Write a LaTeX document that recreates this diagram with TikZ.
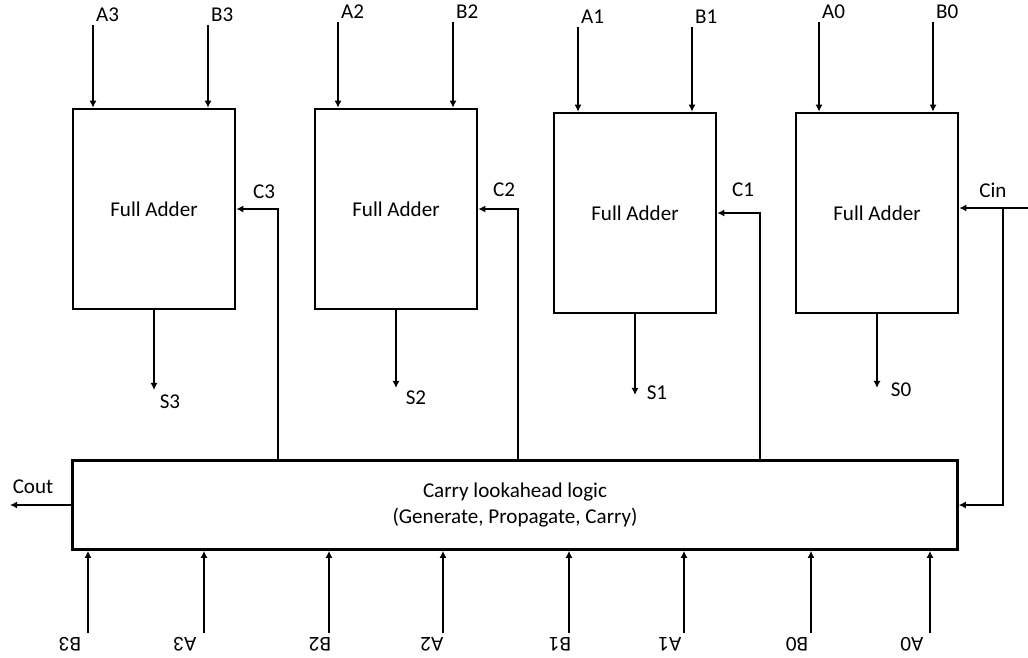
\documentclass[tikz,border=0pt]{standalone}
\usepackage{fontspec}
\setmainfont{Carlito}
\usetikzlibrary{arrows.meta,positioning}

\begin{document}
\begin{tikzpicture}[
  x=0.02cm, y=-0.02cm,
  >={Latex[length=4pt,width=4pt]},
  every path/.style={line width=1.5pt},
  adder/.style={draw, line width=1.5pt, minimum width=3.24cm, minimum height=4cm,
                inner sep=0pt, font=\fontsize{12}{14}\selectfont},
  logic/.style={draw, line width=1.5pt, minimum width=17.7cm, minimum height=1.78cm,
                align=center, inner sep=0pt, font=\fontsize{12}{15}\selectfont},
  lbl/.style={inner sep=1pt, font=\fontsize{12}{14}\selectfont}
]
  \useasboundingbox (0,0) rectangle (1028,657);

  \node[adder] (fa3) at (154,209) {Full Adder};
  \node[adder] (fa2) at (396,209) {Full Adder};
  \node[adder] (fa1) at (635,213) {Full Adder};
  \node[adder] (fa0) at (877,213) {Full Adder};
  \node[logic] (cla) at (515,505) {Carry lookahead logic\\(Generate, Propagate, Carry)};

  \coordinate (a3) at (93,25);
  \coordinate (b3) at (208,25);
  \coordinate (a2) at (338,22);
  \coordinate (b2) at (453,22);
  \coordinate (a1) at (578,27);
  \coordinate (b1) at (692,27);
  \coordinate (a0) at (819,22);
  \coordinate (b0) at (933,22);
  \node[lbl, anchor=south west] (la3) at (a3) {A3};
  \node[lbl, anchor=south west] (lb3) at (b3) {B3};
  \node[lbl, anchor=south west] (la2) at (a2) {A2};
  \node[lbl, anchor=south west] (lb2) at (b2) {B2};
  \node[lbl, anchor=south west] (la1) at (a1) {A1};
  \node[lbl, anchor=south west] (lb1) at (b1) {B1};
  \node[lbl, anchor=south west] (la0) at (a0) {A0};
  \node[lbl, anchor=south west] (lb0) at (b0) {B0};
  \draw[->] (a3) -- (a3 |- fa3.north);
  \draw[->] (b3) -- (b3 |- fa3.north);
  \draw[->] (a2) -- (a2 |- fa2.north);
  \draw[->] (b2) -- (b2 |- fa2.north);
  \draw[->] (a1) -- (a1 |- fa1.north);
  \draw[->] (b1) -- (b1 |- fa1.north);
  \draw[->] (a0) -- (a0 |- fa0.north);
  \draw[->] (b0) -- (b0 |- fa0.north);

  \coordinate (s3) at (154,390);
  \coordinate (s2) at (396,388);
  \coordinate (s1) at (635,395);
  \coordinate (s0) at (877,388);
  \draw[->] (fa3.south) -- (s3);
  \draw[->] (fa2.south) -- (s2);
  \draw[->] (fa1.south) -- (s1);
  \draw[->] (fa0.south) -- (s0);
  \node[lbl] (ls3) at ([shift={(16,12)}]s3) {S3};
  \node[lbl] (ls2) at ([shift={(20,10)}]s2) {S2};
  \node[lbl] (ls1) at ([shift={(22,-2)}]s1) {S1};
  \node[lbl] (ls0) at ([shift={(24,2)}]s0) {S0};

  \coordinate (c3) at (278,209);
  \coordinate (c2) at (518,209);
  \coordinate (c1) at (760,213);
  \draw[->] (c3 |- cla.north) |- (fa3.east);
  \draw[->] (c2 |- cla.north) |- (fa2.east);
  \draw[->] (c1 |- cla.north) |- (fa1.east);
  \node[lbl] (lc3) at (264,192) {C3};
  \node[lbl] (lc2) at (504,190) {C2};
  \node[lbl] (lc1) at (743,190) {C1};

  \coordinate (cin) at (1028,208);
  \coordinate (cinb) at (1003,208);
  \draw[->] (cin) -- (cin -| fa0.east);
  \draw[->] (cinb) |- (cla.east);
  \node[lbl] (lcin) at (993,190) {Cin};

  \coordinate (cout) at (10,505);
  \draw[->] (cla.west) -- (cout);
  \node[lbl] (lcout) at (33,487) {Cout};

  \coordinate (ib3) at (88,633);
  \coordinate (ia3) at (204,633);
  \coordinate (ib2) at (329,633);
  \coordinate (ia2) at (443,633);
  \coordinate (ib1) at (569,633);
  \coordinate (ia1) at (684,633);
  \coordinate (ib0) at (811,633);
  \coordinate (ia0) at (930,633);
  \draw[->] (ib3) -- (ib3 |- cla.south);
  \draw[->] (ia3) -- (ia3 |- cla.south);
  \draw[->] (ib2) -- (ib2 |- cla.south);
  \draw[->] (ia2) -- (ia2 |- cla.south);
  \draw[->] (ib1) -- (ib1 |- cla.south);
  \draw[->] (ia1) -- (ia1 |- cla.south);
  \draw[->] (ib0) -- (ib0 |- cla.south);
  \draw[->] (ia0) -- (ia0 |- cla.south);
  \node[lbl, rotate=180] (lib3) at ([shift={(-18,11)}]ib3) {B3};
  \node[lbl, rotate=180] (lia3) at ([shift={(-19,11)}]ia3) {A3};
  \node[lbl, rotate=180] (lib2) at ([shift={(-9,11)}]ib2) {B2};
  \node[lbl, rotate=180] (lia2) at ([shift={(-11,11)}]ia2) {A2};
  \node[lbl, rotate=180] (lib1) at ([shift={(-9,11)}]ib1) {B1};
  \node[lbl, rotate=180] (lia1) at ([shift={(-14,11)}]ia1) {A1};
  \node[lbl, rotate=180] (lib0) at ([shift={(-14,11)}]ib0) {B0};
  \node[lbl, rotate=180] (lia0) at ([shift={(-18,11)}]ia0) {A0};
\end{tikzpicture}
\end{document}
